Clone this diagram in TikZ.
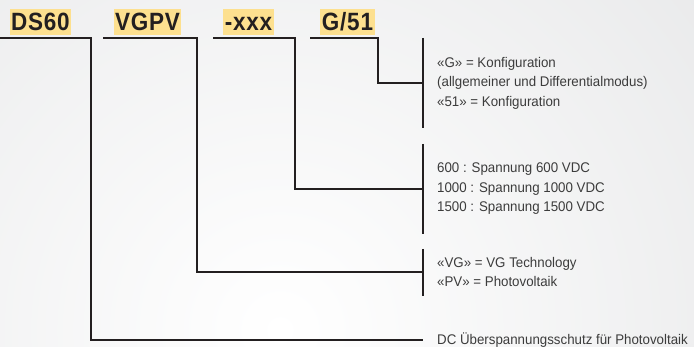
\documentclass[tikz,border=0pt]{standalone}
\usepackage{fontspec}
\setmainfont{Liberation Sans}
\newfontfamily\descfont[FakeStretch=0.95]{Liberation Sans}
\newfontfamily\codefont[FakeStretch=0.9, LetterSpace=3]{Liberation Sans}
\usetikzlibrary{positioning}
\definecolor{codeyellow}{HTML}{FDE08F}
\definecolor{lineblack}{HTML}{231F20}
\definecolor{textgrey}{HTML}{3C3C3C}
\definecolor{bggrey}{HTML}{D6D7D9}

\begin{document}
\begin{tikzpicture}[x=1pt, y=-1pt,
codebox/.style={fill=codeyellow, text=lineblack, font=\codefont\bfseries\fontsize{25}{25}\selectfont, inner xsep=1.5pt, inner ysep=0pt, minimum height=26pt, text height=18.5pt, text depth=1.5pt},
descnode/.style={anchor=west, align=left, text=textgrey, font=\descfont\fontsize{14}{19.5}\selectfont, inner sep=0pt},
conn/.style={draw=lineblack, line width=1.4pt},
tick/.style={draw=lineblack, line width=1.4pt}]
\useasboundingbox (0,0) rectangle (694,347);

% background
\begin{scope}
\clip (0,0) rectangle (694,347);
\fill[bggrey] (0,0) rectangle (694,347);
\shade[inner color=white, outer color=bggrey] (280,330) circle (1050);
\end{scope}

% code parts
\node[codebox] (ds) at (40.5,22) {DS60};
\node[codebox] (vgpv) at (147.5,22) {VGPV};
\node[codebox] (xxx) at (248.5,22) {-xxx};
\node[codebox] (g51) at (347.5,22) {G/51};

% ticks in front of the descriptions
\coordinate (conf-top) at (423,38);
\coordinate (conf-bot) at (423,128);
\coordinate (volt-top) at (423,144);
\coordinate (volt-bot) at (423,234);
\coordinate (tech-top) at (423,249);
\coordinate (tech-bot) at (423,296);
\coordinate (dc-end) at (423,340);
\draw[tick] (conf-top) -- (conf-bot);
\draw[tick] (volt-top) -- (volt-bot);
\draw[tick] (tech-top) -- (tech-bot);

% descriptions
\node[descnode] (conf) at (437,83) {«G» = Konfiguration\\(allgemeiner und Differentialmodus)\\«51» = Konfiguration};
\node[descnode] (volt) at (437,189) {600 : Spannung 600 VDC\\1000 : Spannung 1000 VDC\\1500 : Spannung 1500 VDC};
\node[descnode] (tech) at (437,272) {«VG» = VG Technology\\«PV» = Photovoltaik};
\node[descnode] (dc) at (437,340) {DC Überspannungsschutz für Photovoltaik};

% knees of the connectors
\coordinate (g51-knee) at (378,83);
\coordinate (xxx-knee) at (295,189);
\coordinate (vgpv-knee) at (197,272);
\coordinate (ds-knee) at (91,340);

\draw[conn] ([xshift=-10pt,yshift=-3pt]g51.south west) -| (g51-knee) -- (conf.west -| conf-top);
\draw[conn] ([xshift=-10pt,yshift=-3pt]xxx.south west) -| (xxx-knee) -- (volt.west -| volt-top);
\draw[conn] ([xshift=-10pt,yshift=-3pt]vgpv.south west) -| (vgpv-knee) -- (tech.west -| tech-top);
\draw[conn] (0,38) -| (ds-knee) -- (dc-end);
\end{tikzpicture}
\end{document}
